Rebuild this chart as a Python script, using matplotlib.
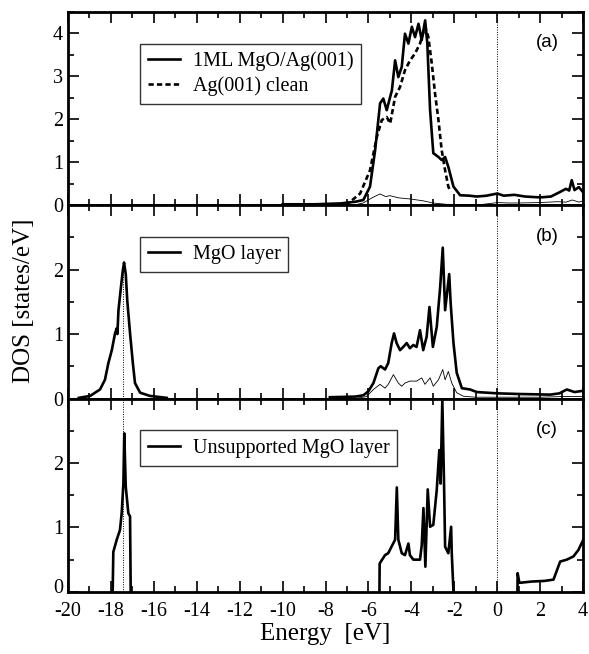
import numpy as np
import matplotlib
matplotlib.use("Agg")
import matplotlib.pyplot as plt
import matplotlib.transforms as mtransforms
from matplotlib.ticker import MultipleLocator

plt.rcParams['font.family'] = ['Liberation Serif', 'DejaVu Serif']

# panel (a): 1ML MgO/Ag(001) total, clean Ag(001), MgO part
e_a_tot = [-10.0, -8.5, -7.3, -6.6, -6.24, -5.93, -5.69, -5.46, -5.31, -5.15, -4.99, -4.91,
           -4.76, -4.61, -4.45, -4.30, -4.14, -3.98, -3.83, -3.67, -3.52, -3.36, -3.26,
           -3.13, -2.98, -2.74, -2.59, -2.43, -2.28, -2.04, -1.73, -1.3, -0.95, -0.5,
           0.0, 0.3, 0.8, 1.3, 2.0, 2.5, 2.9, 3.2, 3.35, 3.47, 3.6, 3.8, 4.0]
dos_a_tot = [0.02, 0.02, 0.04, 0.08, 0.12, 0.43, 1.28, 2.37, 2.48, 2.21, 2.52, 2.67,
             3.37, 2.98, 3.22, 3.99, 3.76, 4.15, 3.91, 4.22, 3.84, 4.30, 3.77,
             2.21, 1.21, 1.12, 1.05, 1.12, 0.89, 0.43, 0.23, 0.22, 0.20, 0.22,
             0.27, 0.22, 0.24, 0.20, 0.18, 0.20, 0.30, 0.38, 0.34, 0.58, 0.35, 0.42, 0.30]
e_a_ag = [-7.5, -6.9, -6.39, -5.93, -5.61, -5.38, -5.15, -4.99, -4.76, -4.53, -4.30,
          -4.06, -3.83, -3.60, -3.36, -3.21, -3.05, -2.90, -2.74, -2.59, -2.43, -2.28, -2.17]
dos_a_ag = [0.0, 0.06, 0.27, 0.81, 1.59, 1.98, 2.05, 1.90, 2.52, 2.75, 3.14,
            3.37, 3.53, 3.76, 4.15, 3.91, 3.29, 2.60, 1.98, 1.28, 0.81, 0.43, 0.31]
e_a_mgo = [-7.5, -6.6, -6.25, -5.8, -5.46, -5.2, -5.0, -4.6, -4.0, -3.45, -3.0, -2.4,
           -1.6, -0.8, -0.3, 0.0, 0.5, 1.0, 2.0, 2.8, 3.2, 3.5, 3.8, 4.0]
dos_a_mgo = [0.0, 0.01, 0.05, 0.18, 0.26, 0.20, 0.22, 0.17, 0.14, 0.10, 0.05, 0.02,
             0.01, 0.01, 0.04, 0.06, 0.05, 0.05, 0.06, 0.08, 0.07, 0.12, 0.07, 0.10]

# panel (b): MgO layer on Ag, and its thin partial curve
e_b_tot = [-19.5, -18.97, -18.51, -18.28, -18.12, -17.96, -17.81, -17.73, -17.70, -17.65,
           -17.55, -17.45, -17.39, -17.31, -17.24, -17.11, -16.98, -16.88, -16.64,
           -16.18, -15.4]
dos_b_tot = [0.01, 0.04, 0.14, 0.29, 0.55, 0.75, 1.01, 1.09, 1.00, 1.37,
             1.68, 1.98, 2.11, 1.93, 1.52, 1.01, 0.55, 0.24, 0.09,
             0.04, 0.01]
e_b_val = [-7.8, -6.6, -6.24, -6.01, -5.77, -5.54, -5.43, -5.23, -5.08, -4.92, -4.81,
           -4.69, -4.53, -4.38, -4.22, -4.07, -3.91, -3.76, -3.60, -3.45, -3.29, -3.16,
           -3.00, -2.82, -2.66, -2.54, -2.43, -2.24, -2.17, -2.04, -1.89, -1.65, -1.27,
           -0.95, 0.0, 1.0, 2.46, 2.9, 3.24, 3.6, 4.0]
dos_b_val = [0.02, 0.03, 0.05, 0.11, 0.24, 0.47, 0.50, 0.45, 0.55, 0.86, 1.01,
             0.86, 0.75, 0.80, 0.86, 0.78, 0.83, 0.80, 1.06, 0.75, 0.96, 1.42,
             0.80, 1.11, 1.73, 2.34, 1.37, 1.93, 1.47, 0.86, 0.40, 0.16, 0.14,
             0.10, 0.08, 0.07, 0.06, 0.08, 0.14, 0.10, 0.12]
e_b_thin = [-6.6, -6.1, -5.77, -5.46, -5.23, -5.08, -4.84, -4.61, -4.45, -4.30, -4.07,
            -3.76, -3.52, -3.37, -3.13, -2.98, -2.74, -2.54, -2.43, -2.28, -2.12,
            -1.89, -1.58, -1.0, 0.0, 2.0, 3.0, 4.0]
dos_b_thin = [0.0, 0.03, 0.14, 0.22, 0.16, 0.22, 0.37, 0.24, 0.19, 0.24, 0.27,
              0.27, 0.32, 0.22, 0.32, 0.19, 0.29, 0.45, 0.29, 0.42, 0.24,
              0.09, 0.035, 0.02, 0.02, 0.02, 0.03, 0.03]

# panel (c): unsupported MgO layer
e_c1 = [-17.92, -17.89, -17.73, -17.58, -17.50, -17.42, -17.38, -17.31, -17.19, -17.11, -17.08]
dos_c1 = [0.0, 0.62, 0.81, 0.96, 1.22, 1.69, 2.46, 1.63, 1.22, 1.17, 0.0]
e_c2 = [-5.49, -5.48, -5.23, -5.08, -4.76, -4.68, -4.61, -4.45, -4.30, -4.14, -4.07,
        -3.91, -3.60, -3.52, -3.44, -3.35, -3.24, -3.13, -2.98, -2.82, -2.70, -2.64,
        -2.56, -2.48, -2.43, -2.28, -2.15, -2.12, -2.04]
dos_c2 = [0.0, 0.44, 0.57, 0.60, 0.81, 1.62, 0.81, 0.60, 0.57, 0.75, 0.57,
          0.50, 0.50, 0.72, 1.30, 0.39, 1.59, 1.01, 1.04, 1.58, 2.20, 1.68,
          2.98, 1.68, 0.70, 0.60, 1.01, 0.60, 0.0]
e_c3 = [0.94, 0.95, 1.03, 1.6, 2.2, 2.62, 2.93, 3.24, 3.55, 3.78, 4.01]
dos_c3 = [0.0, 0.29, 0.14, 0.16, 0.17, 0.19, 0.47, 0.50, 0.55, 0.65, 0.81]

e_mgo_peak = -17.42
panel_tags = ['(a)', '(b)', '(c)']
ylims = [4.5, 3.0, 3.0]
yticks = [[0, 1, 2, 3, 4], [0, 1, 2], [0, 1, 2]]
xticks = np.arange(-20, 5, 2)

fig, axs = plt.subplots(3, 1, sharex=True, figsize=(5.89, 6.54), dpi=100)
plt.subplots_adjust(left=0.1155, right=0.99, top=0.982, bottom=0.095, hspace=0)

lw_thick = 1.9
lw_thin = 0.6

ax = axs[0]
ax.plot(e_a_tot, dos_a_tot, color='k', lw=lw_thick, label='1ML MgO/Ag(001)')
ax.plot(e_a_ag, dos_a_ag, color='k', lw=lw_thick, ls=(0, (2.0, 1.2)), label='Ag(001) clean')
ax.plot(e_a_mgo, dos_a_mgo, color='k', lw=lw_thin)

ax = axs[1]
ax.plot(e_b_tot, dos_b_tot, color='k', lw=lw_thick, label='MgO layer')
ax.plot(e_b_val, dos_b_val, color='k', lw=lw_thick)
ax.plot(e_b_thin, dos_b_thin, color='k', lw=lw_thin)
ax.axvline(e_mgo_peak, ymin=0, ymax=2.1 / 3.0, color='k', lw=0.7, ls=(0, (1, 1.5)))

ax = axs[2]
ax.plot(e_c1, dos_c1, color='k', lw=lw_thick, label='Unsupported MgO layer')
ax.plot(e_c2, dos_c2, color='k', lw=lw_thick)
ax.plot(e_c3, dos_c3, color='k', lw=lw_thick)
ax.axvline(e_mgo_peak, color='k', lw=0.7, ls=(0, (1, 1.5)))

for i, ax in enumerate(axs):
    ax.axvline(0, color='k', lw=0.7, ls=(0, (1, 1.5)))
    ax.set_xlim(-20, 4)
    ax.set_ylim(0, ylims[i])
    ax.set_yticks(yticks[i])
    ax.yaxis.set_minor_locator(MultipleLocator(0.5))
    ax.set_xticks(xticks)
    ax.xaxis.set_minor_locator(MultipleLocator(1))
    ax.tick_params(which='both', direction='in', top=True, right=True, labelsize=14.5, width=1.2)
    ax.tick_params(which='major', length=8)
    ax.tick_params(which='minor', length=4.5)
    for s in ax.spines.values():
        s.set_linewidth(2)
    ax.text(0.93, 0.84, panel_tags[i], transform=ax.transAxes, ha='center', va='center',
            fontsize=13.5, family=['Liberation Sans', 'DejaVu Sans'])
    leg = ax.legend(loc='upper left', bbox_to_anchor=(0.14, 0.835), borderaxespad=0,
                    fancybox=False, edgecolor='k', fontsize=14.5, handlelength=1.6,
                    handletextpad=0.6, labelspacing=0.25, borderpad=0.4)
    leg.get_frame().set_linewidth(1.0)

axs[2].set_xticklabels([str(int(v)) for v in xticks])
axs[2].tick_params(axis='x', pad=7)
axs[2].set_xlabel('Energy  [eV]', fontsize=18, labelpad=2)
fig.text(0.04, 0.54, 'DOS [states/eV]', rotation=90, ha='center', va='center', fontsize=18)

# lift the bottom "0" of panel (c) a little so it clears the "-20" below it
zero_lbl = axs[2].get_yticklabels()[0]
zero_lbl.set_transform(zero_lbl.get_transform() +
                       mtransforms.ScaledTranslation(0, 4 / 72, fig.dpi_scale_trans))

plt.savefig('out.png', dpi=100)
